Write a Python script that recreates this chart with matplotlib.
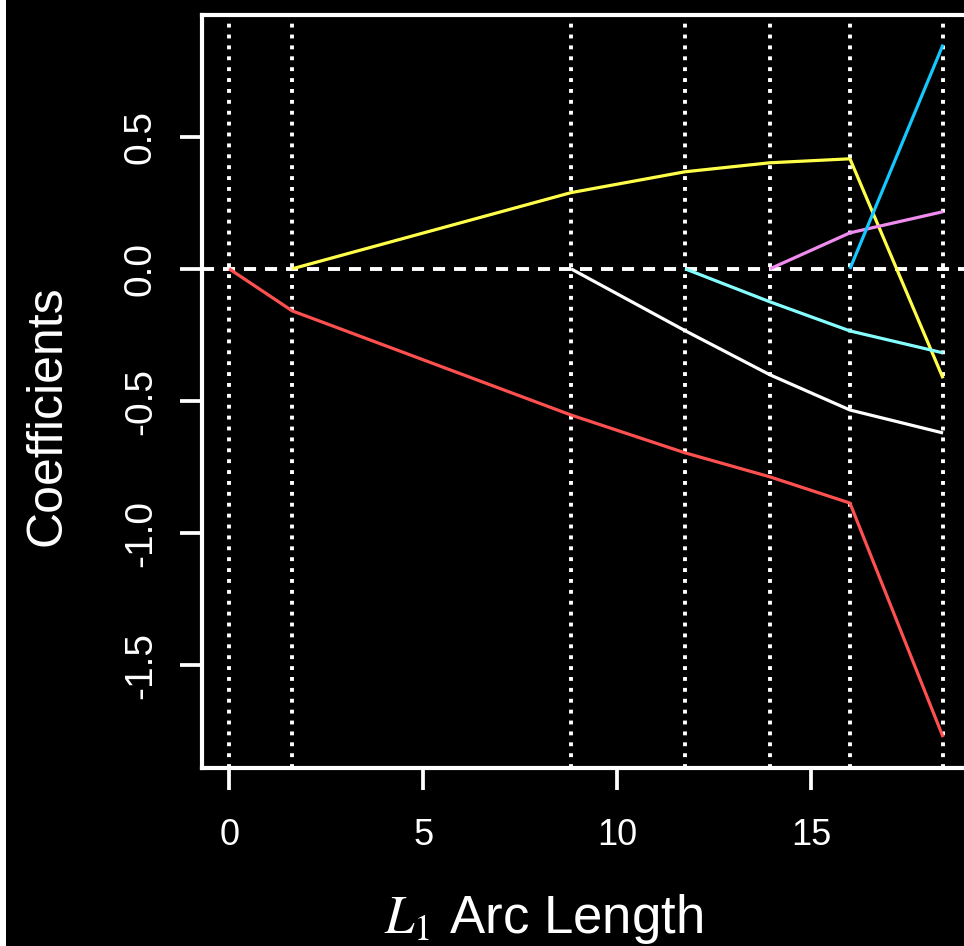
import numpy as np
import matplotlib
matplotlib.use('Agg')
import matplotlib.pyplot as plt
from matplotlib.patches import Rectangle

# L1 arc length at each knot of the path
knots = [0.0, 1.624, 8.81, 11.75, 13.94, 16.0, 18.40]

# coefficient values from the knot where each variable enters
coef_red = [0.0, -0.159, -0.553, -0.696, -0.787, -0.886, -1.771]
coef_yellow = [0.0, 0.288, 0.367, 0.401, 0.416, -0.414]
coef_white = [0.0, -0.234, -0.401, -0.534, -0.621]
coef_ltcyan = [0.0, -0.125, -0.235, -0.318]
coef_violet = [0.0, 0.136, 0.216]
coef_blue = [0.0, 0.848]

paths = [coef_red, coef_yellow, coef_white, coef_ltcyan, coef_violet, coef_blue]
colors = ['#ff5050', '#ffff4a', '#ffffff', '#86ffff', '#f08cf0', '#14c8ff']

xticks = [0, 5, 10, 15]
yticks = [-1.5, -1.0, -0.5, 0.0, 0.5]
ytick_labels = ['-1.5', '-1.0', '-0.5', '0.0', '0.5']

plt.rcParams['font.family'] = ['Liberation Sans', 'DejaVu Sans']
plt.rcParams['mathtext.fontset'] = 'stix'

W, H = 964, 946
fig = plt.figure(figsize=(W / 100, H / 100), dpi=100, facecolor='black')
# white strip at the left edge of the device
fig.patches.append(Rectangle((0, 0), 6 / W, 1, transform=fig.transFigure,
                             facecolor='white', edgecolor='none'))

ax = fig.add_axes([202 / W, (H - 768) / H, (971 - 202) / W, (768 - 15.5) / H])
ax.set_facecolor('black')

n = len(knots)
for vals, c in zip(paths, colors):
    xs = knots[n - len(vals):]
    ax.plot(xs, vals, color=c, lw=2.3, solid_capstyle='butt', zorder=3)

# knots as dotted lines, zero as dashed line
for k in knots:
    ax.axvline(k, color='white', lw=2.8, ls=(0, (1, 1.8)), dash_capstyle='butt', zorder=2)
ax.axhline(0, color='white', lw=2.8, ls=(0, (3.1, 2.3)), dash_capstyle='butt', zorder=2)

ax.set_xlim(-0.70, 19.12)
ax.set_ylim(-1.888, 0.958)

for s in ax.spines.values():
    s.set_color('white')
    s.set_linewidth(3)

ax.set_xticks(xticks)
ax.set_xticklabels([str(t) for t in xticks])
ax.set_yticks(yticks)
ax.set_yticklabels(ytick_labels, rotation=90, va='center')
ax.tick_params(axis='x', colors='white', length=16, width=2.7, labelsize=26, pad=20)
ax.tick_params(axis='y', colors='white', length=16, width=2.7, labelsize=28, pad=15)

fig.text(61 / W, 1 - 416 / H, 'Coefficients', color='white', fontsize=36,
         rotation=90, ha='center', va='baseline', rotation_mode='anchor')
fig.text(543.5 / W, (H - 933) / H, '$L_1$ Arc Length', color='white', fontsize=38,
         ha='center', va='baseline')

fig.savefig('out.png', dpi=100, facecolor='black')
